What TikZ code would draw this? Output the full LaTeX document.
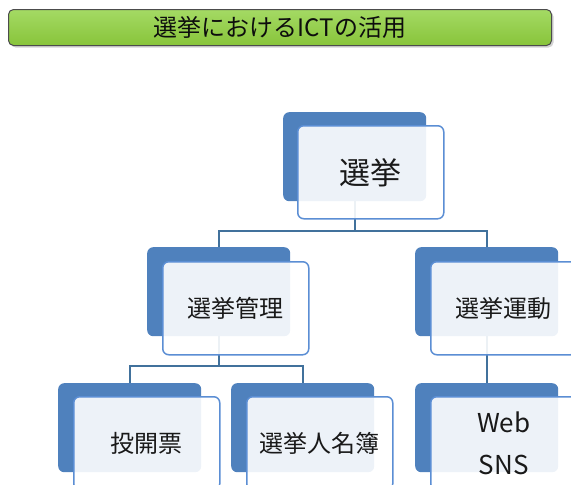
\documentclass[tikz,border=0pt]{standalone}
\usepackage{fontspec}
\setmainfont{Noto Sans CJK JP}
\usetikzlibrary{shadows}
\definecolor{bluebk}{HTML}{4F81BD}
\definecolor{bluefr}{HTML}{5B8ED4}
\definecolor{conncol}{HTML}{41719C}
\definecolor{greentop}{HTML}{A4DA64}
\definecolor{greenbot}{HTML}{88C43A}
\pgfdeclarelayer{bg}
\pgfsetlayers{bg,main}
\tikzset{
  backbox/.style={fill=bluebk, draw=none, rounded corners=6pt, anchor=north west,
    minimum width=143pt, minimum height=89pt, inner sep=0pt},
  frontbox/.style={fill=white, fill opacity=0.9, text opacity=1, draw=bluefr, line width=1.5pt,
    rounded corners=6pt, anchor=north west, minimum width=146pt, minimum height=93pt,
    inner sep=0pt, align=center, text=black!90},
  conn/.style={draw=conncol, line width=2pt},
  bigtxt/.style={font=\fontsize{31}{36}\selectfont},
  midtxt/.style={font=\fontsize{24}{30}\selectfont},
}
\begin{document}
\begin{tikzpicture}[x=1pt,y=-1pt]
\useasboundingbox (0,0) rectangle (571,485);
\clip (0,0) rectangle (571,485);
% title
\node[draw=black!70, line width=1pt, rounded corners=5pt, top color=greentop, bottom color=greenbot,
  drop shadow={shadow xshift=2pt, shadow yshift=-2pt, opacity=0.35},
  minimum width=543pt, minimum height=36pt, anchor=north west, inner sep=0pt,
  font=\fontsize{24}{28}\selectfont, text=black!95] (title) at (8,9) {選挙におけるICTの活用};
% back boxes
\node[backbox] (b1) at (283,112) {};
\node[backbox] (b2) at (147,247) {};
\node[backbox] (b3) at (415,247) {};
\node[backbox] (b4) at (58,383) {};
\node[backbox] (b5) at (231,383) {};
\node[backbox] (b6) at (415,383) {};
% front boxes
\node[frontbox, bigtxt] (f1) at (297,125) {選挙};
\node[frontbox, midtxt] (f2) at (162,261) {選挙管理};
\node[frontbox, midtxt] (f3) at (430,261) {選挙運動};
\node[frontbox, midtxt] (f4) at (73,396) {投開票};
\node[frontbox, midtxt] (f5) at (246,396) {選挙人名簿};
\node[frontbox, midtxt, font=\fontsize{26}{42}\selectfont] (f6) at (430,396) {Web\\SNS};
% connectors
\begin{pgfonlayer}{bg}
\coordinate (j1) at (b1.south |- 0,231);
\coordinate (j2) at (b2.south |- 0,366);
\draw[conn] (b1.south) -- (j1);
\draw[conn] (b2.north) |- (j1) -| (b3.north);
\draw[conn] (b2.south) -- (j2);
\draw[conn] (b4.north) |- (j2) -| (b5.north);
\draw[conn] (b3.south) -- (b6.north);
\end{pgfonlayer}
\end{tikzpicture}
\end{document}
